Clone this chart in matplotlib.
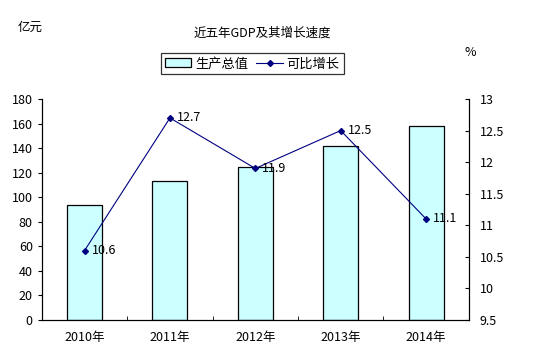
import matplotlib
matplotlib.use("Agg")
import matplotlib.pyplot as plt
import numpy as np

plt.rcParams["font.family"] = ["Noto Sans CJK SC", "DejaVu Sans"]
plt.rcParams["font.size"] = 9

years = ["2010年", "2011年", "2012年", "2013年", "2014年"]
gdp = [94, 113, 125, 142, 158]
growth = [10.6, 12.7, 11.9, 12.5, 11.1]

fig = plt.figure(figsize=(5.37, 3.61), dpi=100)
ax = fig.add_axes([0.078, 0.1136, 0.795, 0.6122])
x = np.arange(len(years))

ax.bar(x, gdp, width=0.41, color="#CCFFFF", edgecolor="black", linewidth=0.9,
       label="生产总值", zorder=2)
ax.set_xlim(-0.5, len(years) - 0.5)
ax.set_ylim(0, 180)
ax.set_yticks(range(0, 181, 20))
ax.set_xticks(x)
ax.set_xticklabels(years)
ax.tick_params(axis="x", length=0, pad=8)
ax.set_xticks(np.arange(0.5, len(years) - 0.5), minor=True)
ax.tick_params(axis="x", which="minor", direction="in", length=3)
ax.tick_params(axis="y", direction="out", length=3)
ax.spines["top"].set_visible(False)

ax2 = ax.twinx()
ax2.plot(x, growth, color="#000080", linewidth=0.8, marker="D", markersize=3,
         label="可比增长", zorder=3)
for xi, g in zip(x, growth):
    ax2.annotate(f"{g}", (xi, g), xytext=(5, 0), textcoords="offset points",
                 va="center", ha="left")
ax2.set_ylim(9.5, 13)
ax2.set_yticks(np.arange(9.5, 13.01, 0.5))
ax2.set_yticklabels(["9.5", "10", "10.5", "11", "11.5", "12", "12.5", "13"])
ax2.tick_params(axis="y", direction="in", length=3, pad=8)
ax2.spines["top"].set_visible(False)

fig.text(0.488, 0.908, "近五年GDP及其增长速度", ha="center", va="center", fontsize=9)
fig.text(0.056, 0.925, "亿元", ha="center", va="center", fontsize=9)
fig.text(0.875, 0.855, "%", ha="center", va="center", fontsize=9)

h1, l1 = ax.get_legend_handles_labels()
h2, l2 = ax2.get_legend_handles_labels()
leg = fig.legend(h1 + h2, l1 + l2, loc="center", bbox_to_anchor=(0.47, 0.823),
                 ncol=2, frameon=True, fancybox=False, edgecolor="black",
                 handlelength=2.0, handletextpad=0.3, columnspacing=0.6,
                 borderpad=0.3, fontsize=9.5)
leg.get_frame().set_linewidth(0.9)

fig.savefig("out.png", dpi=100)
